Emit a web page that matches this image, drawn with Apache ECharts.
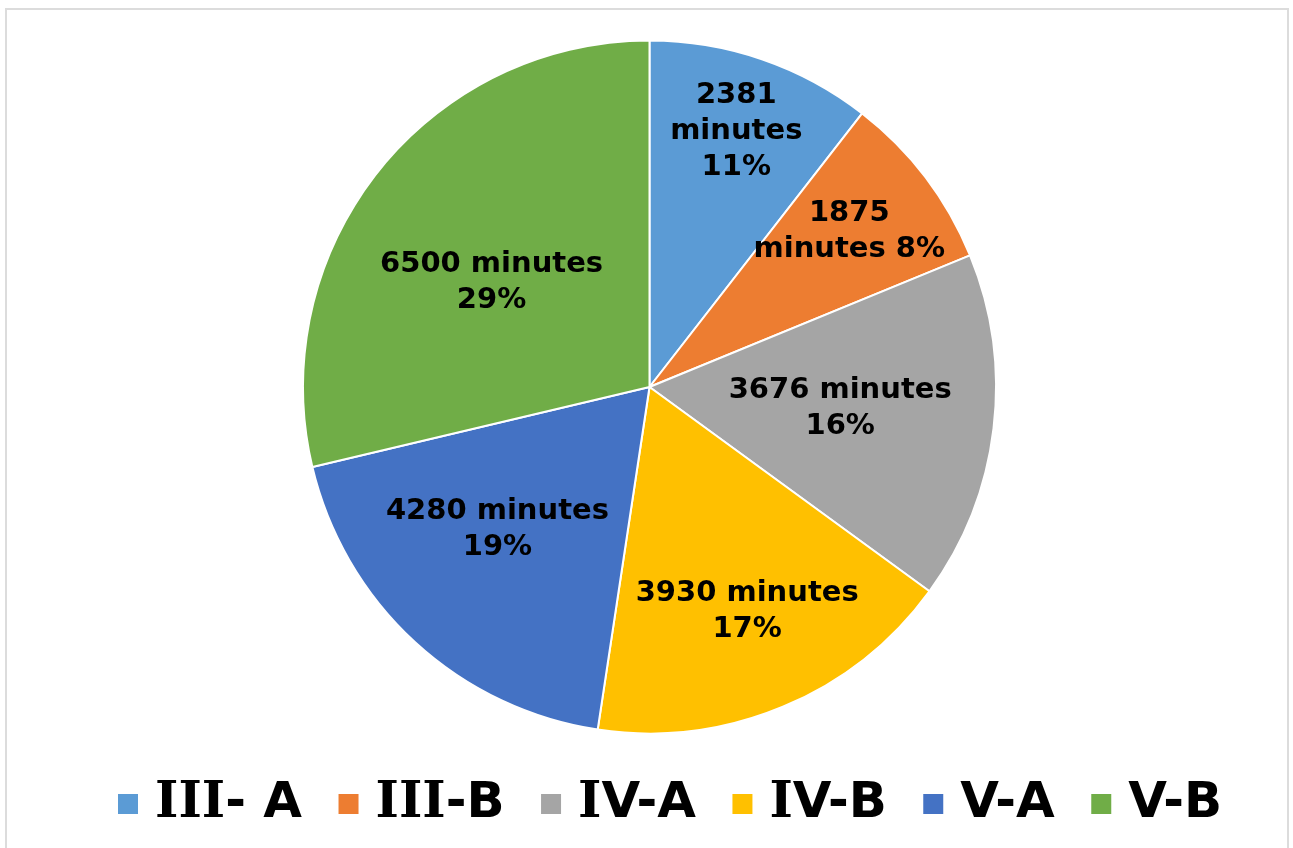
<!DOCTYPE html>
<html>
<head>
<meta charset="utf-8">
<script src="https://cdn.jsdelivr.net/npm/echarts@6/dist/echarts.min.js"></script>
<style>
  html, body { margin: 0; padding: 0; background: #ffffff; overflow: hidden; }
  #frame { position: absolute; left: 5px; top: 8px; width: 1284px; height: 860px; border: 2px solid #dcdcdc; box-sizing: border-box; }
  #chart { position: absolute; left: 0; top: 0; width: 1293px; height: 848px; }
</style>
</head>
<body>
<div id="frame"></div>
<div id="chart"></div>
<script>
// ---- data ----
const categories = ['III- A', 'III-B', 'IV-A', 'IV-B', 'V-A', 'V-B'];
const minutes = [2381, 1875, 3676, 3930, 4280, 6500];
const labelTemplates = [
  '{c}\nminutes\n{d}%',
  '{c}\nminutes {d}%',
  '{c} minutes\n{d}%',
  '{c} minutes\n{d}%',
  '{c} minutes\n{d}%',
  '{c} minutes\n{d}%'
];

// ---- style ----
const colors = ['#5B9BD5', '#ED7D31', '#A5A5A5', '#FFC000', '#4472C4', '#70AD47'];
const labelRadialFactor = [0.784, 0.735, 0.553, 0.70, 0.597, 0.55];
const labelAngleOffset = [-0.3, -1.1, -1.2, -1.1, 4.7, -4.3]; // degrees, clockwise
const CX = 649.5, CY = 387, R = 346.5;

const chart = echarts.init(document.getElementById('chart'), null, { renderer: 'canvas' });

chart.setOption({
  animation: false,
  color: colors,
  legend: {
    left: 111,
    top: 774,
    itemWidth: 22,
    itemHeight: 22,
    itemGap: 34.5,
    icon: 'rect',
    formatter: function (name) {
      return name.replace(/I+/g, m => '{s|' + m + '}');
    },
    textStyle: {
      fontFamily: 'DejaVu Sans',
      fontWeight: 'bold',
      fontSize: 50,
      color: '#000000',
      padding: [0, 0, 0, 11],
      rich: {
        s: {
          fontFamily: 'DejaVu Serif',
          fontWeight: 'bold',
          fontSize: 50,
          color: '#000000'
        }
      }
    },
    data: categories
  },
  series: [{
    type: 'pie',
    center: [CX, CY],
    radius: [0, R],
    startAngle: 90,
    clockwise: true,
    percentPrecision: 0,
    avoidLabelOverlap: false,
    itemStyle: { borderColor: '#ffffff', borderWidth: 2 },
    label: {
      show: true,
      position: 'inside',
      formatter: function (p) {
        return labelTemplates[p.dataIndex]
          .replace('{c}', p.value)
          .replace('{d}', p.percent);
      },
      fontFamily: 'DejaVu Sans',
      fontWeight: 'bold',
      fontSize: 29,
      lineHeight: 36,
      color: '#000000',
      align: 'center'
    },
    labelLine: { show: false },
    emphasis: { disabled: true },
    labelLayout: function (p) {
      const r = p.labelRect;
      const lx = r.x + r.width / 2;
      const ly = r.y + r.height / 2;
      const theta = Math.atan2(lx - CX, -(ly - CY)) + labelAngleOffset[p.dataIndex] * Math.PI / 180;
      const dist = labelRadialFactor[p.dataIndex] * R;
      return {
        x: CX + dist * Math.sin(theta),
        y: CY - dist * Math.cos(theta) + 2,
        align: 'center',
        verticalAlign: 'middle'
      };
    },
    data: categories.map((name, i) => ({ name: name, value: minutes[i] }))
  }]
});
</script>
</body>
</html>
